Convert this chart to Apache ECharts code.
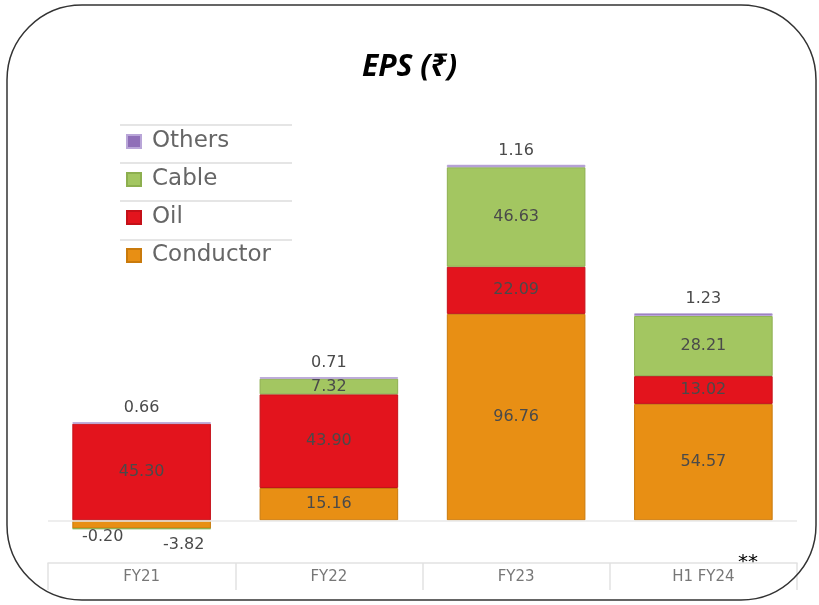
<!DOCTYPE html>
<html>
<head>
<meta charset="utf-8">
<script src="https://cdn.jsdelivr.net/npm/echarts@6/dist/echarts.min.js"></script>
<style>
  html, body { margin: 0; padding: 0; background: #fff; }
  #chart { width: 819px; height: 605px; }
</style>
</head>
<body>
<div id="chart"></div>
<script>
const categories = ['FY21', 'FY22', 'FY23', 'H1 FY24'];
const conductor = [-3.82, 15.16, 96.76, 54.57];
const oil = [45.30, 43.90, 22.09, 13.02];
const cable = [-0.20, 7.32, 46.63, 28.21];
const others = [0.66, 0.71, 1.16, 1.23];

const labelFont = '"DejaVu Sans", sans-serif';
const fmt = (p) => p.value.toFixed(2);

const insideLabel = {
  show: true,
  position: 'inside',
  color: '#4a4a4a',
  fontSize: 16,
  fontFamily: labelFont,
  formatter: fmt,
};

const chart = echarts.init(document.getElementById('chart'));

// FY21 negative labels sit under the bar, like the original
const conductorData = conductor.map((v, i) => i === 0
  ? { value: v, label: { position: 'bottom', offset: [42, 3] } }
  : v);
const cableData = cable.map((v, i) => i === 0
  ? { value: v, label: { position: 'bottom', offset: [-39, -5] } }
  : v);

const option = {
  animation: false,
  title: {
    text: 'EPS (₹)',
    left: 'center',
    top: 47,
    textStyle: {
      fontFamily: '"Open Sans", "Noto Sans", "DejaVu Sans", sans-serif',
      fontStyle: 'italic',
      fontWeight: 'bold',
      fontSize: 30,
      color: '#000',
    },
  },
  legend: {
    data: ['Others', 'Cable', 'Oil', 'Conductor'],
    orient: 'vertical',
    left: 121,
    top: 125,
    itemWidth: 14,
    itemHeight: 13,
    itemGap: 15,
    icon: 'rect',
    textStyle: {
      fontSize: 23,
      color: '#666',
      fontFamily: labelFont,
      padding: [0, 0, 0, 6],
    },
  },
  grid: { left: 48, right: 22, top: 100, bottom: 42 },
  xAxis: {
    type: 'category',
    data: categories,
    axisLine: { show: true, onZero: false, lineStyle: { color: '#e2e2e2', width: 1.5 } },
    axisTick: { show: true, length: 27, lineStyle: { color: '#e2e2e2', width: 1.5 } },
    axisLabel: { color: '#777', fontSize: 15, margin: 7, fontFamily: labelFont },
  },
  yAxis: {
    type: 'value',
    min: -20,
    max: 197,
    show: false,
    splitLine: { show: false },
  },
  color: ['#E88F14', '#E3141D', '#A3C661', '#8F6FB8'],
  series: [
    {
      name: 'Conductor',
      type: 'bar',
      stack: 'eps',
      barWidth: '74%',
      data: conductorData,
      itemStyle: { color: '#E88F14', borderColor: '#C97A0C', borderWidth: 1 },
      label: insideLabel,
      markLine: {
        silent: true,
        symbol: 'none',
        label: { show: false },
        lineStyle: { color: '#e8e8e8', type: 'solid', width: 1.5 },
        data: [{ yAxis: 0 }],
      },
    },
    {
      name: 'Oil',
      type: 'bar',
      stack: 'eps',
      data: oil,
      itemStyle: { color: '#E3141D', borderColor: '#C41018', borderWidth: 1 },
      label: insideLabel,
    },
    {
      name: 'Cable',
      type: 'bar',
      stack: 'eps',
      data: cableData,
      itemStyle: { color: '#A3C661', borderColor: '#8DAF4F', borderWidth: 1 },
      label: insideLabel,
    },
    {
      name: 'Others',
      type: 'bar',
      stack: 'eps',
      data: others,
      itemStyle: { color: '#8F6FB8', borderColor: '#B9A6D8', borderWidth: 1 },
      label: {
        show: true,
        position: 'top',
        distance: 6,
        color: '#4a4a4a',
        fontSize: 16,
        fontFamily: labelFont,
        formatter: fmt,
      },
    },
  ],
  graphic: [
    {
      type: 'rect',
      z: 100,
      silent: true,
      shape: { x: 7, y: 5, width: 809, height: 595, r: 75 },
      style: { fill: 'none', stroke: '#333', lineWidth: 1.5 },
    },
    ...[125, 163, 201, 240].map((y) => ({
      type: 'line',
      silent: true,
      shape: { x1: 120, y1: y, x2: 292, y2: y },
      style: { stroke: '#dcdcdc', lineWidth: 1.5 },
    })),
    {
      type: 'text',
      left: 738,
      top: 553,
      style: { text: '**', fontSize: 20, fill: '#000', fontFamily: '"DejaVu Sans", sans-serif' },
    },
  ],
};

chart.setOption(option);
</script>
</body>
</html>
